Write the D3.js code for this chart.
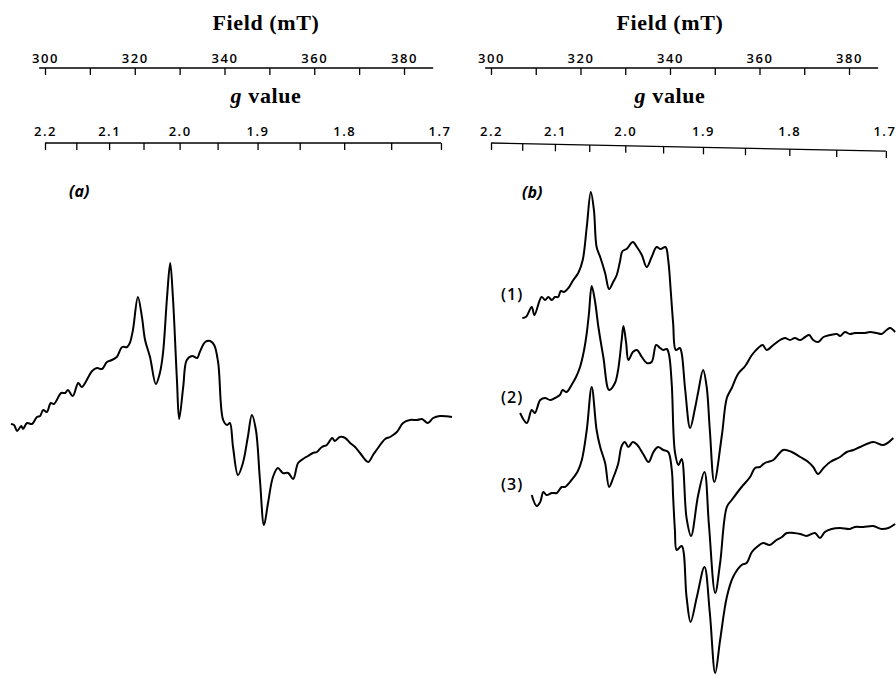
<!DOCTYPE html>
<html>
<head>
<meta charset="utf-8">
<script src="https://cdn.jsdelivr.net/npm/d3@7"></script>
<style>
  body { margin: 0; background: #fff; }
  .title { font-family: "Liberation Serif", serif; font-weight: bold; font-size: 22px; letter-spacing: 0.6px; }
  .tick line, .axisline { stroke: #000; stroke-width: 1.3; }
  .trace { fill: none; stroke: #000; stroke-width: 2; stroke-linejoin: round; }
</style>
</head>
<body>
<svg id="chart" width="896" height="675"></svg>
<script>
// axis ticks
const fieldTicks = [300, 310, 320, 330, 340, 350, 360, 370, 380];
const fieldLabels = [300, 320, 340, 360, 380];
const fieldSpan = [298.7, 386.5];
const gTicks = [2.2, 2.15, 2.1, 2.05, 2.0, 1.95, 1.9, 1.85, 1.8, 1.75, 1.7];
const gLabels = [2.2, 2.1, 2.0, 1.9, 1.8, 1.7];
const hvOverMuB = 660; // mT, field = hv / (muB g)

// (a) spectrum: field (mT), signal (arb.)
const fieldA = [292.4, 293.1, 293.8, 294.7, 295.1, 296.0, 297.1, 298.2, 298.9, 299.6, 300.4, 301.3, 302.0, 303.6, 304.5, 305.1, 306.2, 307.4, 308.2, 310.5,
  311.6, 312.7, 313.8, 314.9, 316.0, 317.2, 318.3, 318.9, 319.6, 320.7, 321.6, 322.3, 323.4, 324.7, 325.6, 326.3, 327.2, 327.9, 328.5, 329.4,
  329.9, 330.8, 331.6, 332.8, 333.9, 334.5, 335.7, 336.8, 337.7, 338.6, 339.7, 340.6, 341.2, 341.9, 343.0, 344.1, 345.2, 346.1, 347.0, 347.9,
  348.8, 349.7, 350.8, 351.9, 353.0, 354.2, 355.3, 356.4, 357.5, 358.6, 359.7, 360.6, 361.7, 362.8, 364.0, 364.6, 365.7, 366.9, 368.0, 369.1,
  370.2, 372.0, 373.1, 374.2, 375.8, 376.9, 378.4, 379.8, 381.3, 382.9, 384.0, 385.3, 386.5, 388.0, 390.7];
const sigA = [-4, -5, -11, -6, -9, -3, -4, 3, 4, 10, 8, 17, 16, 27, 27, 30, 24, 37, 33, 49,
  52, 51, 58, 60, 63, 73, 73, 77, 90, 123, 103, 80, 63, 36, 47, 67, 123, 157, 123, 40,
  1, 33, 60, 64, 62, 68, 78, 79, 75, 57, 0, -5, -3, -27, -55, -43, -17, 5, -10, -60,
  -105, -83, -57, -48, -53, -53, -59, -43, -39, -36, -33, -32, -27, -25, -18, -21, -17, -18, -23, -27,
  -33, -42, -35, -28, -19, -17, -12, -3, 0, 0, 1, -3, 2, 4, 3];

// (b) spectra (1), (2), (3)
const fieldB1 = [307.0, 307.8, 309.1, 309.7, 311.3, 312.1, 312.8, 313.6, 314.3, 315.0, 315.6, 316.3, 317.3, 318.4, 319.5, 320.5, 321.4, 322.3, 323.0, 323.6,
  324.4, 325.5, 326.4, 327.3, 328.1, 328.8, 329.4, 330.3, 331.7, 332.6, 333.7, 334.8, 335.9, 337.0, 337.9, 339.0, 339.6, 340.2, 340.7, 341.3,
  342.2, 342.6, 343.4, 344.5, 345.6, 346.3, 347.4, 348.2, 348.9, 349.9, 351.6, 352.7, 353.8, 355.2, 356.8, 358.3, 359.7, 360.7, 361.6, 363.1,
  364.6, 365.7, 366.8, 367.9, 369.1, 370.2, 371.1, 372.0, 373.1, 374.3, 375.8, 377.3, 378.0, 379.1, 380.2, 381.3, 382.5, 383.6, 384.7, 386.2,
  387.3, 388.4, 389.2, 390.3];
const sigB1 = [12, 13, 23, 15, 33, 30, 33, 30, 33, 33, 39, 38, 42, 50, 57, 70, 103, 138, 120, 83,
  73, 57, 41, 48, 55, 68, 79, 81, 88, 83, 75, 63, 73, 83, 81, 83, 70, 37, 7, -20,
  -18, -23, -60, -98, -78, -62, -40, -57, -100, -152, -105, -68, -58, -44, -36, -25, -18, -15, -20, -15,
  -10, -8, -10, -8, -10, -7, -5, -10, -12, -7, -5, -4, -6, -2, -4, -3, -3, -3, -2, -3,
  -4, 0, 2, -2];

const fieldB2 = [306.5, 308.0, 309.1, 309.8, 311.0, 312.1, 313.2, 314.3, 315.4, 316.0, 316.9, 318.0, 319.0, 319.9, 320.8, 321.4, 321.9, 322.5, 323.2, 324.0,
  325.1, 326.4, 327.7, 328.4, 329.2, 329.6, 330.2, 330.7, 331.7, 332.6, 333.7, 334.8, 335.9, 336.9, 337.8, 338.5, 339.3, 339.8, 340.4, 341.1,
  341.9, 342.6, 343.7, 344.7, 346.3, 347.7, 348.7, 350.1, 351.2, 352.7, 353.8, 356.0, 357.9, 359.0, 360.1, 361.2, 363.1, 365.3, 367.2, 369.1,
  370.9, 372.0, 373.1, 374.3, 375.8, 378.0, 379.5, 381.0, 382.5, 385.4, 387.7, 389.9];
const sigB2 = [32, 22, 35, 32, 45, 47, 45, 47, 50, 55, 53, 60, 68, 78, 95, 112, 132, 159, 145, 118,
  88, 55, 62, 75, 105, 119, 102, 85, 93, 95, 88, 82, 83, 100, 97, 95, 96, 90, 60, -7,
  -20, -14, -73, -91, -50, -27, -80, -148, -118, -62, -55, -42, -32, -23, -22, -18, -15, -5, -7, -12,
  -17, -22, -29, -23, -17, -12, -7, -5, -2, 3, 0, 7];

const fieldB3 = [309.1, 310.2, 311.0, 311.7, 312.4, 313.6, 314.7, 315.8, 316.5, 318.0, 319.3, 320.3, 321.4, 322.5, 323.6, 324.4, 325.5, 326.4, 327.3, 328.4,
  329.2, 329.9, 330.7, 331.7, 332.7, 334.0, 335.2, 336.3, 337.3, 338.5, 339.6, 340.4, 340.7, 341.1, 341.5, 342.6, 343.7, 344.6, 346.0, 347.7,
  348.9, 350.1, 351.2, 352.7, 354.1, 356.0, 357.1, 358.3, 359.4, 360.8, 362.3, 363.8, 365.0, 366.1, 367.6, 369.1, 370.5, 372.4, 373.5, 374.6,
  376.1, 378.0, 380.2, 381.3, 383.2, 385.4, 387.3, 388.8, 390.3];
const sigB3 = [35, 24, 28, 38, 35, 37, 37, 43, 43, 50, 58, 70, 100, 143, 100, 83, 67, 43, 52, 66,
  84, 88, 83, 88, 85, 76, 68, 78, 83, 80, 78, 60, 33, 0, -20, -16, -67, -92, -67, -37,
  -83, -143, -110, -67, -47, -35, -33, -22, -17, -13, -15, -10, -7, -3, -3, -4, -6, -3, -8, -2,
  1, 2, 1, 3, 3, 4, 1, 2, 6];

const traceLabels = ["(1)", "(2)", "(3)"];

const svg = d3.select("#chart");

function tickText(sel) {
  sel.style("font-family", '"Open Sans", sans-serif').style("font-size", "13px")
    .style("font-weight", "600").style("letter-spacing", "1.5px")
    .attr("fill", "#000").attr("dy", 0);
}

function drawAxes(x, cx, gSlope) {
  // field axis
  const fAxis = d3.axisBottom(x).tickValues(fieldTicks).tickSize(7).tickSizeOuter(0)
    .tickFormat(d => fieldLabels.includes(d) ? d : "");
  const fa = svg.append("g").attr("transform", "translate(0,68)").call(fAxis);
  fa.select(".domain").remove();
  fa.selectAll(".tick text").attr("y", -5).call(tickText);
  fa.append("line").attr("class", "axisline")
    .attr("x1", x(fieldSpan[0])).attr("x2", x(fieldSpan[1]));
  svg.append("text").attr("class", "title").attr("x", cx).attr("y", 30)
    .attr("text-anchor", "middle").text("Field (mT)");

  // g axis, linear in 1/g; the scanned baseline sags slightly to the right
  const inv = d3.scaleLinear().domain([1 / gTicks[0], 1 / gTicks[gTicks.length - 1]])
    .range([x(hvOverMuB / gTicks[0]), x(hvOverMuB / gTicks[gTicks.length - 1])]);
  const [x0, x1] = inv.range();
  const gAxis = d3.axisBottom(inv).tickValues(gTicks.map(g => 1 / g)).tickSize(7).tickSizeOuter(0)
    .tickFormat(v => {
      const g = 1 / v;
      return gLabels.some(l => Math.abs(l - g) < 1e-6) ? g.toFixed(1) : "";
    });
  const ga = svg.append("g").attr("transform", "translate(0,143)").call(gAxis);
  ga.select(".domain").remove();
  ga.selectAll(".tick line").attr("transform", v => `translate(0,${(inv(v) - x0) * gSlope})`);
  ga.selectAll(".tick text").attr("y", -7).call(tickText);
  ga.selectAll(".tick:last-of-type text").attr("text-anchor", "end").attr("dx", 10);
  ga.append("line").attr("class", "axisline")
    .attr("x1", x0).attr("x2", x1).attr("y1", 0).attr("y2", (x1 - x0) * gSlope);
  const gt = svg.append("text").attr("class", "title").attr("x", cx).attr("y", 103)
    .attr("text-anchor", "middle");
  gt.append("tspan").attr("font-style", "italic").text("g");
  gt.append("tspan").text(" value");
}

function panelLabel(x, y, t) {
  svg.append("text").attr("x", x).attr("y", y)
    .style("font-family", '"Open Sans", sans-serif').style("font-style", "italic")
    .style("font-weight", "bold").style("font-size", "16px").text(t);
}

// panel (a)
const xA = d3.scaleLinear().domain([300, 380]).range([45, 404]);
const yA = d3.scaleLinear().domain([-100, 100]).range([520, 320]);
drawAxes(xA, 266, 0);
panelLabel(69, 197, "(a)");
const lineA = d3.line().x(d => xA(d[0])).y(d => yA(d[1])).curve(d3.curveCatmullRom.alpha(0.5));
svg.append("path").attr("class", "trace").attr("d", lineA(d3.zip(fieldA, sigA)));

// panel (b)
const xB = d3.scaleLinear().domain([300, 380]).range([491, 849]);
drawAxes(xB, 670, 8 / 392);
panelLabel(522, 198, "(b)");

const tracesB = [[fieldB1, sigB1], [fieldB2, sigB2], [fieldB3, sigB3]];
const baseB = [330, 445, 530];
const labelY = [300, 403, 490];
tracesB.forEach(([f, s], i) => {
  const y = d3.scaleLinear().domain([-100, 100]).range([baseB[i] + 100, baseB[i] - 100]);
  const line = d3.line().x(d => xB(d[0])).y(d => y(d[1])).curve(d3.curveCatmullRom.alpha(0.5));
  svg.append("path").attr("class", "trace").attr("d", line(d3.zip(f, s)));
  svg.append("text").attr("x", 501).attr("y", labelY[i])
    .style("font-family", '"Open Sans", sans-serif').style("font-size", "16px")
    .style("font-weight", "600").style("letter-spacing", "1px").text(traceLabels[i]);
});
</script>
</body>
</html>
